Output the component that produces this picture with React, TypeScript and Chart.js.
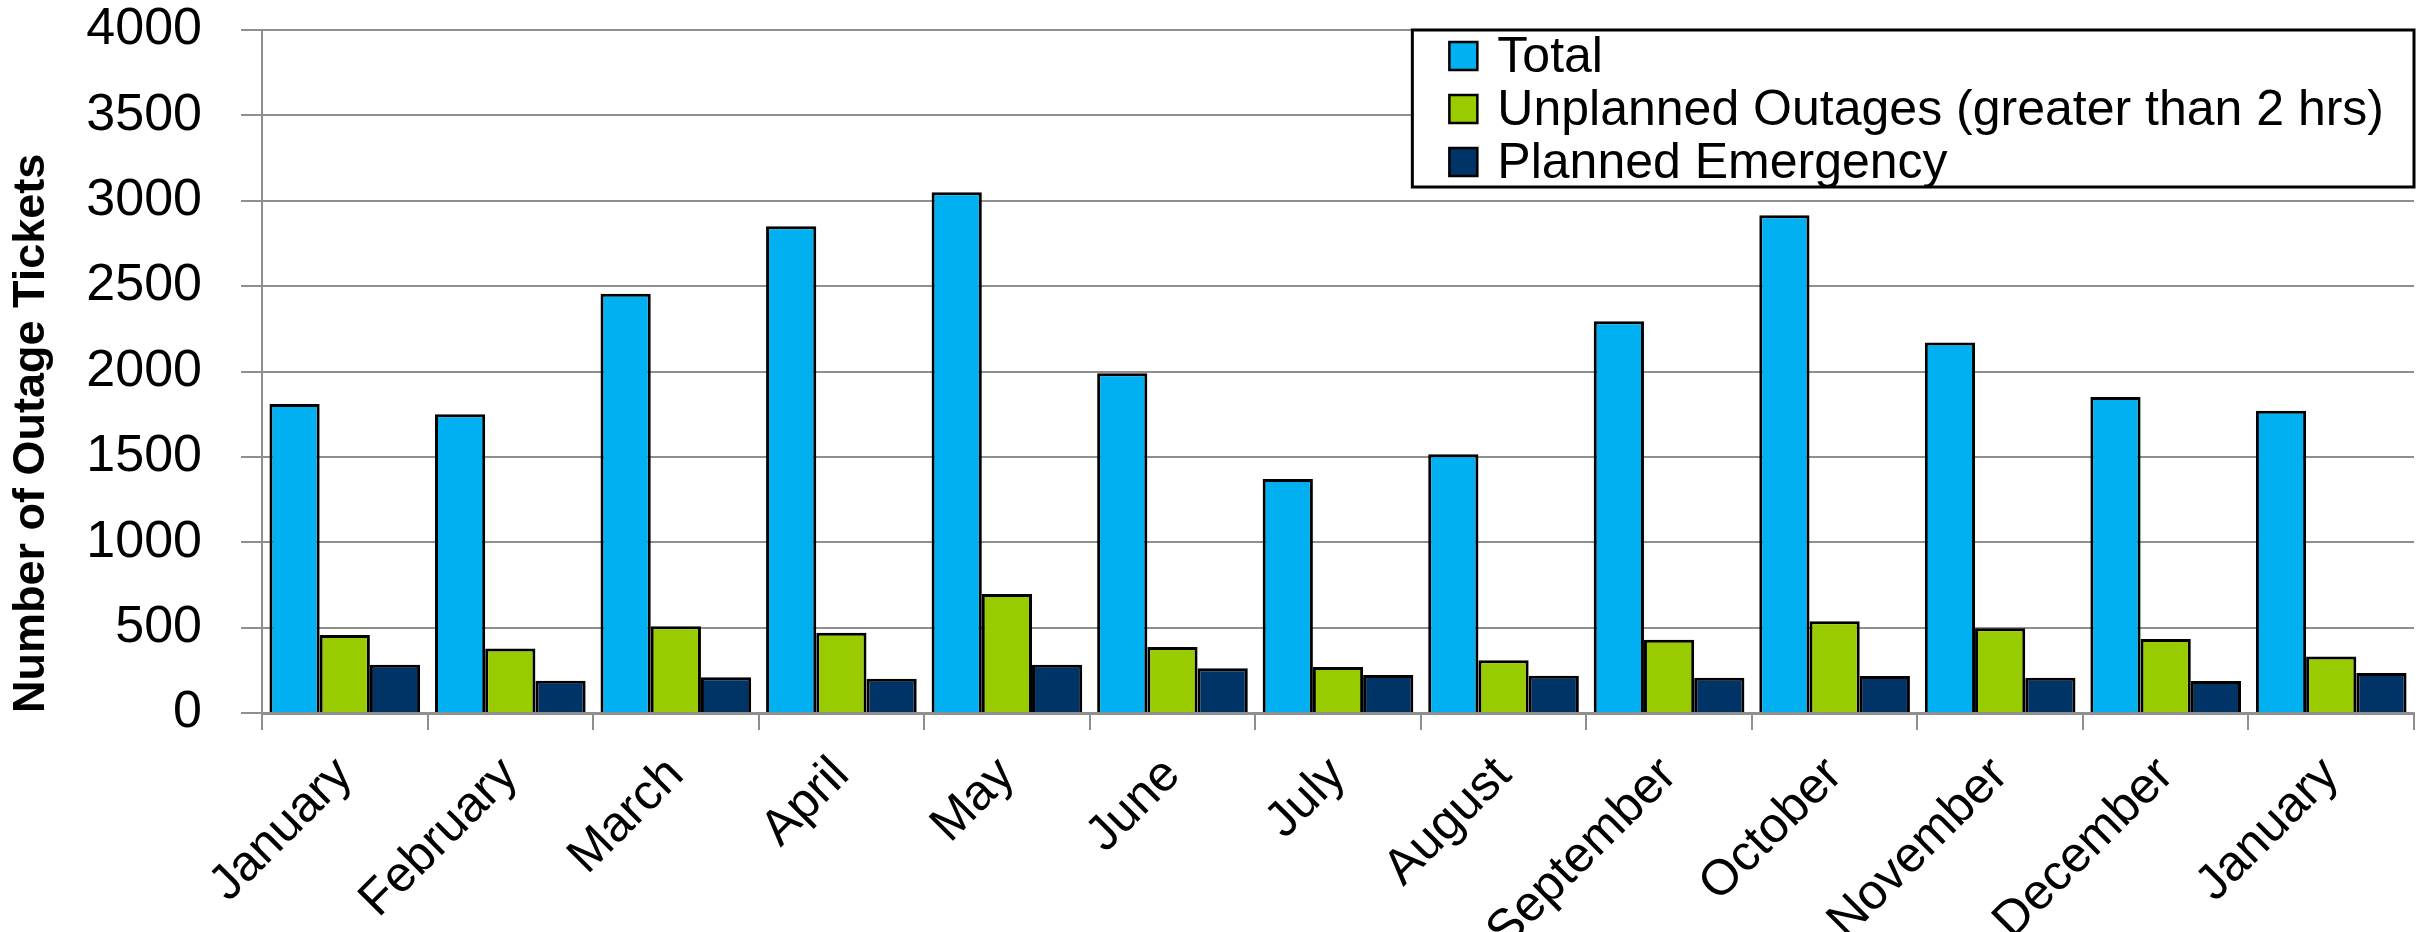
import { useEffect, useRef } from "react";
import { Chart, registerables } from "chart.js";

Chart.register(...registerables);

const months = [
  "January", "February", "March", "April", "May", "June", "July",
  "August", "September", "October", "November", "December", "January",
];
const total = [1810, 1750, 2455, 2850, 3050, 1990, 1370, 1515, 2295, 2915, 2170, 1850, 1770];
const unplanned = [457, 378, 508, 470, 697, 386, 270, 309, 429, 537, 496, 433, 331];
const plannedEmergency = [283, 189, 209, 201, 283, 262, 222, 218, 207, 217, 207, 187, 234];
const yTicks = [0, 500, 1000, 1500, 2000, 2500, 3000, 3500, 4000];

const FONT = '"Liberation Sans", Arial, sans-serif';

// legend drawn inside the plot, top right, like the original spreadsheet chart
const insideLegend = {
  id: "insideLegend",
  afterDraw(chart: Chart) {
    const { ctx, chartArea } = chart;
    const rowH = 53;
    const sw = 28;
    ctx.save();
    ctx.font = `50px ${FONT}`;
    const labels = chart.data.datasets.map((d) => String(d.label));
    const textW = Math.max(...labels.map((l) => ctx.measureText(l).width));
    const boxW = 37 + sw + 20 + textW + 30;
    const boxH = 157;
    const x0 = chartArea.right - boxW;
    const y0 = chartArea.top;
    ctx.fillStyle = "#fff";
    ctx.fillRect(x0, y0, boxW, boxH);
    ctx.lineWidth = 3;
    ctx.strokeStyle = "#000";
    ctx.strokeRect(x0, y0, boxW, boxH);
    chart.data.datasets.forEach((d, i) => {
      const cy = y0 + 26 + rowH * i;
      ctx.fillStyle = d.backgroundColor as string;
      ctx.fillRect(x0 + 37, cy - sw / 2, sw, sw);
      ctx.lineWidth = 2.5;
      ctx.strokeRect(x0 + 37, cy - sw / 2, sw, sw);
      ctx.fillStyle = "#000";
      ctx.textBaseline = "middle";
      ctx.textAlign = "left";
      ctx.fillText(labels[i], x0 + 37 + sw + 20, cy + 2);
    });
    ctx.restore();
  },
};

export default function App() {
  const canvasRef = useRef<HTMLCanvasElement>(null);

  useEffect(() => {
    document.body.style.margin = "0";
    if (!canvasRef.current) return;
    const chart = new Chart(canvasRef.current, {
      type: "bar",
      data: {
        labels: months,
        datasets: [
          { label: "Total", data: total, backgroundColor: "#00B0F0" },
          { label: "Unplanned Outages (greater than 2 hrs)", data: unplanned, backgroundColor: "#99CC00" },
          { label: "Planned Emergency", data: plannedEmergency, backgroundColor: "#003366" },
        ],
      },
      options: {
        responsive: true,
        maintainAspectRatio: false,
        animation: false,
        layout: { padding: { top: 0, right: 18, left: 0, bottom: 0 } },
        datasets: {
          bar: {
            borderColor: "#000",
            borderWidth: 3,
            barPercentage: 1,
            categoryPercentage: 0.91,
          },
        },
        plugins: {
          legend: { display: false },
          tooltip: { enabled: false },
        },
        scales: {
          x: {
            grid: {
              offset: true,
              drawOnChartArea: false,
              drawTicks: true,
              tickLength: 17,
              color: "#8f8f8f",
              lineWidth: 2,
            },
            border: { color: "#8f8f8f", width: 3 },
            ticks: {
              color: "#000",
              maxRotation: 45,
              minRotation: 45,
              padding: 16,
              font: { family: FONT, size: 50 },
            },
            afterFit: (scale) => {
              scale.height = 219;
            },
          },
          y: {
            min: 0,
            max: 4000,
            afterBuildTicks: (scale) => {
              scale.ticks = yTicks.map((v) => ({ value: v }));
            },
            grid: { color: "#8f8f8f", lineWidth: 2, tickLength: 21 },
            border: { color: "#8f8f8f", width: 2 },
            ticks: {
              color: "#000",
              padding: 39,
              font: { family: FONT, size: 52 },
              callback: (v) => String(v),
            },
            title: {
              display: true,
              text: "Number of Outage Tickets",
              color: "#000",
              align: "start",
              padding: { top: 5, bottom: 0 },
              font: { family: FONT, size: 45, weight: "bold" },
            },
            afterFit: (scale) => {
              scale.width = 262;
              scale.paddingTop = 30;
              scale.paddingBottom = 0;
            },
          },
        },
      },
      plugins: [insideLegend],
    });
    return () => chart.destroy();
  }, []);

  return (
    <div style={{ width: 2432, height: 932 }}>
      <canvas ref={canvasRef} />
    </div>
  );
}
